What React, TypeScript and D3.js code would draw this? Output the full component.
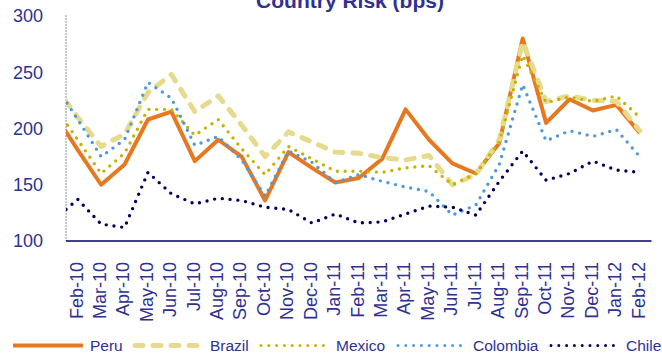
import React from "react";
import * as d3 from "d3";

// Monthly spreads in basis points. The first month (Jan-10) only feeds the
// segment that runs into the left edge of the plot; it carries no tick label.
const months = [
  "Jan-10", "Feb-10", "Mar-10", "Apr-10", "May-10", "Jun-10", "Jul-10", "Aug-10",
  "Sep-10", "Oct-10", "Nov-10", "Dec-10", "Jan-11", "Feb-11", "Mar-11", "Apr-11",
  "May-11", "Jun-11", "Jul-11", "Aug-11", "Sep-11", "Oct-11", "Nov-11", "Dec-11",
  "Jan-12", "Feb-12",
];
const tickMonths = months.slice(1);

const peru = [213, 181, 150, 168, 208, 215, 171, 190, 175, 136, 179, 165, 152, 156, 173, 217, 190, 169, 160, 187, 280, 205, 226, 216, 221, 196];
const brazil = [238, 210, 184, 195, 232, 248, 215, 229, 203, 175, 197, 188, 179, 178, 174, 172, 176, 150, 159, 190, 277, 224, 229, 225, 224, 198];
const mexico = [220, 190, 160, 178, 217, 217, 194, 208, 182, 159, 184, 173, 162, 162, 161, 165, 167, 150, 160, 188, 265, 223, 228, 224, 229, 210];
const colombia = [240, 208, 175, 190, 241, 227, 185, 193, 172, 140, 180, 170, 152, 159, 153, 148, 144, 123, 132, 168, 239, 189, 198, 193, 199, 175];
const chile = [119, 137, 115, 112, 161, 142, 133, 138, 136, 130, 128, 116, 124, 116, 117, 124, 131, 130, 123, 153, 180, 154, 160, 171, 163, 161];

const yTicks = [100, 150, 200, 250, 300];

type Series = {
  name: string;
  values: number[];
  color: string;
  width: number;
  dash: string | null;
  cap: "round" | "butt";
};

const series: Series[] = [
  { name: "Peru", values: peru, color: "#E8781F", width: 4, dash: null, cap: "butt" },
  { name: "Brazil", values: brazil, color: "#E6DA8C", width: 5, dash: "8,10", cap: "round" },
  { name: "Mexico", values: mexico, color: "#C8B200", width: 3.4, dash: "0,7.8", cap: "round" },
  { name: "Colombia", values: colombia, color: "#4D9ADA", width: 3.4, dash: "0,7.8", cap: "round" },
  { name: "Chile", values: chile, color: "#00005C", width: 3.4, dash: "0,7.8", cap: "round" },
];

const W = 662;
const H = 353;
const plot = { left: 66, right: 651.5, top: 16, bottom: 241 };
const textColor = "#2E3192";
const font = "'Liberation Sans', Arial, Helvetica, sans-serif";

// legend slot positions: line start, line end, label start
const legendSlots = [
  [13, 83, 90],
  [135, 198, 210],
  [261, 330, 336],
  [398, 463, 473],
  [551, 616, 626],
];

export default function App() {
  const band = d3.scaleBand<string>().domain(tickMonths).range([plot.left, plot.right]);
  const step = band.step();
  const x = d3
    .scalePoint<string>()
    .domain(months)
    .range([plot.left - step / 2, plot.right - step / 2]);
  const y = d3.scaleLinear().domain([100, 300]).range([plot.bottom, plot.top]);

  const line = d3
    .line<number>()
    .x((_, i) => x(months[i]) as number)
    .y((d) => y(d));

  return (
    <svg
      width={W}
      height={H}
      style={{ position: "absolute", left: 0, top: 0, background: "#fff" }}
      fontFamily={font}
    >
      <defs>
        <clipPath id="plot-clip">
          <rect x={plot.left} y={0} width={plot.right - plot.left + 4} height={plot.bottom} />
        </clipPath>
      </defs>

      <text x={350} y={7.5} textAnchor="middle" fontSize={21} fontWeight="bold" fill={textColor}>
        Country Risk (bps)
      </text>

      {yTicks.map((t) => (
        <text key={t} x={43} y={y(t)} dy="0.35em" textAnchor="end" fontSize={18} fill={textColor}>
          {t}
        </text>
      ))}

      <line
        x1={plot.left}
        x2={plot.left}
        y1={plot.top - 1}
        y2={plot.bottom}
        stroke="#8A8AB8"
        strokeWidth={1}
        strokeDasharray="2,1"
      />

      <g clipPath="url(#plot-clip)">
        {series.map((s) => (
          <path
            key={s.name}
            d={line(s.values) as string}
            fill="none"
            stroke={s.color}
            strokeWidth={s.width}
            strokeDasharray={s.dash ?? undefined}
            strokeLinecap={s.cap}
            strokeLinejoin="round"
          />
        ))}
      </g>

      <line
        x1={plot.left}
        x2={plot.right}
        y1={plot.bottom}
        y2={plot.bottom}
        stroke="#000066"
        strokeWidth={1.5}
      />

      {tickMonths.map((m) => {
        const cx = (band(m) as number) + band.bandwidth() / 2 - 1.5;
        return (
          <text
            key={m}
            transform={`translate(${cx},262) rotate(-90)`}
            dy="0.35em"
            textAnchor="end"
            fontSize={18}
            fill={textColor}
          >
            {m}
          </text>
        );
      })}

      {series.map((s, i) => {
        const [x1, x2, tx] = legendSlots[i];
        return (
          <g key={s.name}>
            <line
              x1={x1}
              x2={x2}
              y1={345.5}
              y2={345.5}
              stroke={s.color}
              strokeWidth={s.dash ? (s.width === 5 ? 5 : 3) : 4}
              strokeDasharray={s.dash ?? undefined}
              strokeLinecap={s.cap}
            />
            <text x={tx} y={351.3} fontSize={15.5} fill={textColor}>
              {s.name}
            </text>
          </g>
        );
      })}
    </svg>
  );
}
